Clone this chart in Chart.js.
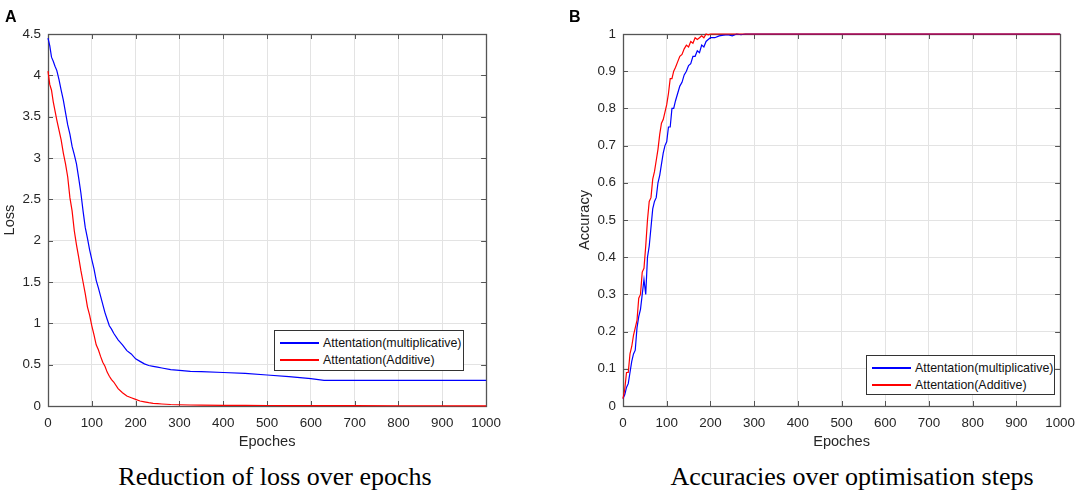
<!DOCTYPE html>
<html>
<head>
<meta charset="utf-8">
<script src="https://cdn.jsdelivr.net/npm/chart.js@4/dist/chart.umd.min.js"></script>
<style>
  html, body { margin: 0; padding: 0; background: #fff; }
  body { width: 1084px; height: 494px; position: relative; overflow: hidden; font-family: "Liberation Sans", Arial, sans-serif; }
  .panel { position: absolute; top: 0; height: 460px; }
  .letter { position: absolute; font-weight: bold; font-size: 16px; color: #000; }
  .caption { position: absolute; font-family: "Liberation Serif", "Times New Roman", serif; font-size: 26px; color: #000; transform: translate(-50%, -50%); white-space: nowrap; }
  .legend { position: absolute; background: #fff; border: 1px solid #333; font-size: 12.4px; color: #111; box-sizing: border-box; }
  .legend .row { position: absolute; left: 0; right: 0; height: 16px; }
  .legend .swatch { position: absolute; left: 5px; top: 7px; width: 39px; height: 2px; }
  .legend .label { position: absolute; left: 48px; top: 0; line-height: 16px; white-space: nowrap; }
</style>
</head>
<body>
<div class="panel" style="left:0; width:510px;"><canvas id="lossChart"></canvas></div>
<div class="panel" style="left:575px; width:509px;"><canvas id="accChart"></canvas></div>

<div class="letter" style="left:5px; top:8px;">A</div>
<div class="letter" style="left:569px; top:8px;">B</div>

<div class="legend" style="left:274px; top:330px; width:190px; height:41px;">
  <div class="row" style="top:4px;"><div class="swatch" style="background:#0000ff"></div><span class="label">Attentation(multiplicative)</span></div>
  <div class="row" style="top:21px;"><div class="swatch" style="background:#ff0000"></div><span class="label">Attentation(Additive)</span></div>
</div>
<div class="legend" style="left:866px; top:355px; width:189px; height:40px;">
  <div class="row" style="top:4px;"><div class="swatch" style="background:#0000ff"></div><span class="label">Attentation(multiplicative)</span></div>
  <div class="row" style="top:21px;"><div class="swatch" style="background:#ff0000"></div><span class="label">Attentation(Additive)</span></div>
</div>

<div class="caption" style="left:275px; top:477px;">Reduction of loss over epochs</div>
<div class="caption" style="left:852px; top:477px;">Accuracies over optimisation steps</div>

<script>
// Loss panel (A)
const lossEpochs = [0, 4, 8, 12, 16, 20, 25, 30, 35, 40, 45, 50, 55, 60, 65, 70, 75, 80, 85, 90,
  95, 100, 105, 110, 115, 120, 125, 130, 135, 140, 145, 150, 160, 170, 180, 190, 200, 210, 220, 230,
  240, 250, 260, 280, 300, 325, 350, 400, 450, 500, 550, 600, 630, 700, 800, 900, 1000];
const lossMultiplicative = [4.45, 4.36, 4.22, 4.17, 4.11, 4.06, 3.95, 3.82, 3.70, 3.55, 3.40, 3.29, 3.14, 3.04, 2.93, 2.76, 2.58, 2.36, 2.16, 2.03,
  1.89, 1.77, 1.66, 1.52, 1.43, 1.33, 1.23, 1.13, 1.05, 0.97, 0.93, 0.88, 0.80, 0.74, 0.67, 0.63, 0.57, 0.54, 0.51, 0.49,
  0.48, 0.47, 0.46, 0.44, 0.43, 0.42, 0.415, 0.405, 0.395, 0.375, 0.355, 0.33, 0.31, 0.31, 0.31, 0.31, 0.31];
const lossAdditive = [4.05, 3.89, 3.82, 3.68, 3.57, 3.46, 3.34, 3.22, 3.06, 2.93, 2.77, 2.52, 2.36, 2.12, 1.95, 1.80, 1.64, 1.50, 1.36, 1.20,
  1.10, 0.97, 0.86, 0.74, 0.68, 0.60, 0.53, 0.48, 0.41, 0.36, 0.32, 0.29, 0.21, 0.16, 0.12, 0.10, 0.08, 0.06, 0.05, 0.04,
  0.032, 0.028, 0.024, 0.018, 0.015, 0.012, 0.010, 0.008, 0.007, 0.006, 0.005, 0.005, 0.004, 0.004, 0.003, 0.003, 0.002];
const lossTicks = [0, 0.5, 1, 1.5, 2, 2.5, 3, 3.5, 4, 4.5];
const lossTickLabels = ['0', '0.5', '1', '1.5', '2', '2.5', '3', '3.5', '4', '4.5'];

// Accuracy panel (B)
const accEpochs = [0, 4, 8, 12, 16, 20, 24, 28, 32, 36, 40, 44, 48, 52, 56, 60, 64, 68, 72, 76,
  80, 84, 88, 92, 96, 100, 104, 108, 112, 116, 120, 125, 130, 135, 140, 145, 150, 155, 160, 165,
  170, 175, 180, 185, 190, 195, 200, 210, 220, 230, 240, 250, 260, 270, 280, 300, 320, 350, 400, 500,
  600, 700, 800, 900, 1000];
const accMultiplicative = [0.02, 0.03, 0.05, 0.06, 0.09, 0.12, 0.14, 0.15, 0.21, 0.24, 0.26, 0.30, 0.34, 0.30, 0.40, 0.43, 0.48, 0.53, 0.55, 0.56,
  0.60, 0.62, 0.65, 0.68, 0.70, 0.71, 0.75, 0.75, 0.80, 0.80, 0.82, 0.84, 0.86, 0.87, 0.89, 0.90, 0.915, 0.92, 0.94, 0.94,
  0.955, 0.95, 0.97, 0.965, 0.98, 0.985, 0.99, 0.99, 0.995, 0.997, 0.998, 0.995, 1.0, 0.998, 1.0, 1.0, 1.0, 1.0, 1.0, 1.0,
  1.0, 1.0, 1.0, 1.0, 1.0];
const accAdditive = [0.02, 0.045, 0.09, 0.09, 0.14, 0.16, 0.19, 0.21, 0.23, 0.29, 0.30, 0.36, 0.37, 0.43, 0.50, 0.55, 0.56, 0.61, 0.63, 0.66,
  0.69, 0.73, 0.76, 0.77, 0.79, 0.81, 0.84, 0.88, 0.88, 0.90, 0.91, 0.925, 0.94, 0.945, 0.96, 0.97, 0.965, 0.98, 0.975, 0.99,
  0.985, 0.99, 0.995, 0.99, 1.0, 0.998, 1.0, 1.0, 1.0, 1.0, 1.0, 1.0, 1.0, 1.0, 1.0, 1.0, 1.0, 1.0, 1.0, 1.0,
  1.0, 1.0, 1.0, 1.0, 1.0];
const accTicks = [0, 0.1, 0.2, 0.3, 0.4, 0.5, 0.6, 0.7, 0.8, 0.9, 1];
const accTickLabels = ['0', '0.1', '0.2', '0.3', '0.4', '0.5', '0.6', '0.7', '0.8', '0.9', '1'];

const epochTicks = [0, 100, 200, 300, 400, 500, 600, 700, 800, 900, 1000];
const epochTickLabels = ['0', '100', '200', '300', '400', '500', '600', '700', '800', '900', '1000'];

const axisColor = '#555555';
const gridColor = '#e3e3e3';
const tickFont = { family: '"Liberation Sans", Arial, sans-serif', size: 13.4 };
const titleFont = { family: '"Liberation Sans", Arial, sans-serif', size: 14.6 };

// MATLAB-like box with inward ticks on all four sides, drawn under the lines
const boxPlugin = {
  id: 'matlabBox',
  beforeDatasetsDraw(chart) {
    const { ctx, chartArea: a, scales: { x, y } } = chart;
    const len = 5;
    ctx.save();
    ctx.strokeStyle = axisColor;
    ctx.lineWidth = 1;
    ctx.beginPath();
    x.ticks.forEach(t => {
      const px = Math.round(x.getPixelForValue(t.value)) + 0.5;
      ctx.moveTo(px, a.bottom); ctx.lineTo(px, a.bottom - len);
      ctx.moveTo(px, a.top); ctx.lineTo(px, a.top + len);
    });
    y.ticks.forEach(t => {
      const py = Math.round(y.getPixelForValue(t.value)) + 0.5;
      ctx.moveTo(a.left, py); ctx.lineTo(a.left + len, py);
      ctx.moveTo(a.right, py); ctx.lineTo(a.right - len, py);
    });
    ctx.stroke();
    ctx.lineWidth = 1.3;
    ctx.strokeRect(Math.round(a.left) + 0.5, Math.round(a.top) + 0.5,
      Math.round(a.right - a.left), Math.round(a.bottom - a.top));
    ctx.restore();
  }
};

function points(xs, ys) {
  return xs.map((x, i) => ({ x: x, y: ys[i] }));
}

function makeChart(id, xs, blue, red, yMax, yTicks, yLabels, yTitle, padRight) {
  const ctx = document.getElementById(id).getContext('2d');
  return new Chart(ctx, {
    type: 'line',
    data: {
      datasets: [{
        label: 'Attentation(multiplicative)',
        data: points(xs, blue),
        borderColor: '#0000ff',
        borderWidth: 1.2,
        pointRadius: 0,
        tension: 0,
        clip: 3,
        order: 1
      },
      {
        label: 'Attentation(Additive)',
        data: points(xs, red),
        borderColor: '#ff0000',
        borderWidth: 1.2,
        pointRadius: 0,
        tension: 0,
        clip: 3,
        order: 0
      }]
    },
    options: {
      responsive: true,
      maintainAspectRatio: false,
      animation: false,
      layout: { padding: { top: 34, right: padRight, left: 0, bottom: 0 } },
      plugins: { legend: { display: false }, tooltip: { enabled: false } },
      scales: {
        x: {
          type: 'linear',
          min: 0,
          max: 1000,
          afterBuildTicks: s => { s.ticks = epochTicks.map(v => ({ value: v })); },
          afterFit: s => { s.height = 54; },
          grid: { color: gridColor, drawTicks: false },
          border: { display: false },
          ticks: {
            color: '#262626', font: tickFont, padding: 9, maxRotation: 0, autoSkip: false,
            callback: (v, i) => epochTickLabels[i]
          },
          title: { display: true, text: 'Epoches', color: '#262626', font: titleFont, padding: { top: 0, bottom: 9 } }
        },
        y: {
          type: 'linear',
          min: 0,
          max: yMax,
          afterBuildTicks: s => { s.ticks = yTicks.map(v => ({ value: v })); },
          afterFit: s => { s.width = 48; },
          grid: { color: gridColor, drawTicks: false },
          border: { display: false },
          ticks: {
            color: '#262626', font: tickFont, padding: 7, autoSkip: false,
            callback: (v, i) => yLabels[i]
          },
          title: { display: true, text: yTitle, color: '#262626', font: titleFont, padding: { top: 1, bottom: 0 } }
        }
      }
    },
    plugins: [boxPlugin]
  });
}

makeChart('lossChart', lossEpochs, lossMultiplicative, lossAdditive, 4.5, lossTicks, lossTickLabels, 'Loss', 22);
makeChart('accChart', accEpochs, accMultiplicative, accAdditive, 1, accTicks, accTickLabels, 'Accuracy', 20);
</script>
</body>
</html>
